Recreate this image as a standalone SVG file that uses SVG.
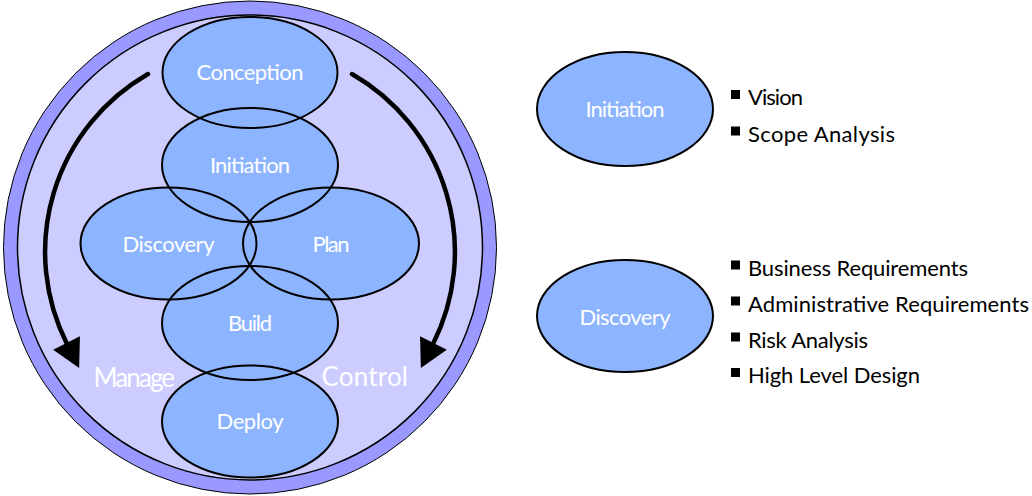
<svg xmlns="http://www.w3.org/2000/svg" width="1032" height="496" viewBox="0 0 1032 496">
<style>
.ring{fill:#9999ff;stroke:#000;stroke-width:1}
.inner{fill:#ccccff;stroke:#000;stroke-width:1.5}
.phase{fill:#8db4ff}
.edge{fill:none;stroke:#000;stroke-width:2}
.lbl{font-family:Lato,"Liberation Sans",Arial,sans-serif;font-size:22px;fill:#fff;text-anchor:middle}
.big{font-size:26px;text-anchor:start}
.item{font-family:Lato,"Liberation Sans",Arial,sans-serif;font-size:22px;fill:#000}
.bullet{fill:#000}
.arrow{fill:none;stroke:#000;stroke-width:4.5;stroke-linecap:round}
</style>
<defs>
<marker id="head" markerUnits="userSpaceOnUse" markerWidth="30" markerHeight="30" viewBox="0 0 28 30" refX="1" refY="15" orient="auto">
<path d="M0,0 L28,15 L0,30 z" fill="#000"/>
</marker>
</defs>
<g id="background">
<circle class="ring" cx="250" cy="247.5" r="246.5"/>
<circle class="inner" cx="250" cy="247.5" r="232.5"/>
</g>
<g id="connectors">
<path class="arrow" d="M148,74 A205,205 0 0 0 67,344" marker-end="url(#head)"/>
<path class="arrow" d="M352,74 A205,205 0 0 1 433,344" marker-end="url(#head)"/>
</g>
<g id="conception"><ellipse class="phase" cx="250" cy="72.5" rx="87.5" ry="55.5"/><text class="lbl" x="250" y="79.5" textLength="107">Conception</text></g>
<g id="initiation"><ellipse class="phase" cx="250" cy="165" rx="88" ry="57"/><text class="lbl" x="250" y="173" textLength="80">Initiation</text></g>
<g id="discovery"><ellipse class="phase" cx="168.5" cy="243.5" rx="88" ry="56"/><text class="lbl" x="168.5" y="251.5" textLength="92">Discovery</text></g>
<g id="plan"><ellipse class="phase" cx="331" cy="243.5" rx="88" ry="56"/><text class="lbl" x="331" y="251.5" textLength="37">Plan</text></g>
<g id="build"><ellipse class="phase" cx="250" cy="323" rx="88" ry="57"/><text class="lbl" x="250" y="331" textLength="44">Build</text></g>
<g id="deploy"><ellipse class="phase" cx="250" cy="421.5" rx="88" ry="56"/><text class="lbl" x="250" y="429" textLength="67">Deploy</text></g>
<g id="outlines">
<ellipse class="edge" cx="250" cy="72.5" rx="87.5" ry="55.5"/>
<ellipse class="edge" cx="250" cy="165" rx="88" ry="57"/>
<ellipse class="edge" cx="168.5" cy="243.5" rx="88" ry="56"/>
<ellipse class="edge" cx="331" cy="243.5" rx="88" ry="56"/>
<ellipse class="edge" cx="250" cy="323" rx="88" ry="57"/>
<ellipse class="edge" cx="250" cy="421.5" rx="88" ry="56"/>
</g>
<text class="lbl big" x="93.5" y="386.5" textLength="81.5">Manage</text>
<text class="lbl big" x="321.5" y="385.5" textLength="86.5">Control</text>
<g id="initiation-detail">
<ellipse class="phase" cx="625" cy="109" rx="88" ry="57"/><ellipse class="edge" cx="625" cy="109" rx="88" ry="57"/>
<text class="lbl" x="625" y="117" textLength="79">Initiation</text>
</g>
<g id="initiation-list">
<rect class="bullet" x="731" y="90" width="9" height="9"/><text class="item" x="748" y="105" textLength="55">Vision</text>
<rect class="bullet" x="731" y="126.5" width="9" height="9"/><text class="item" x="748" y="141.5" textLength="147">Scope Analysis</text>
</g>
<g id="discovery-detail">
<ellipse class="phase" cx="625" cy="316" rx="88" ry="56"/><ellipse class="edge" cx="625" cy="316" rx="88" ry="56"/>
<text class="lbl" x="625" y="325" textLength="91">Discovery</text>
</g>
<g id="discovery-list">
<rect class="bullet" x="731" y="260.5" width="9" height="9"/><text class="item" x="748" y="275.7" textLength="220">Business Requirements</text>
<rect class="bullet" x="731" y="296.5" width="9" height="9"/><text class="item" x="748" y="311.7" textLength="281">Administrative Requirements</text>
<rect class="bullet" x="731" y="332.5" width="9" height="9"/><text class="item" x="748" y="347.7" textLength="120">Risk Analysis</text>
<rect class="bullet" x="731" y="368" width="9" height="9"/><text class="item" x="748" y="383.3" textLength="172">High Level Design</text>
</g>
</svg>
